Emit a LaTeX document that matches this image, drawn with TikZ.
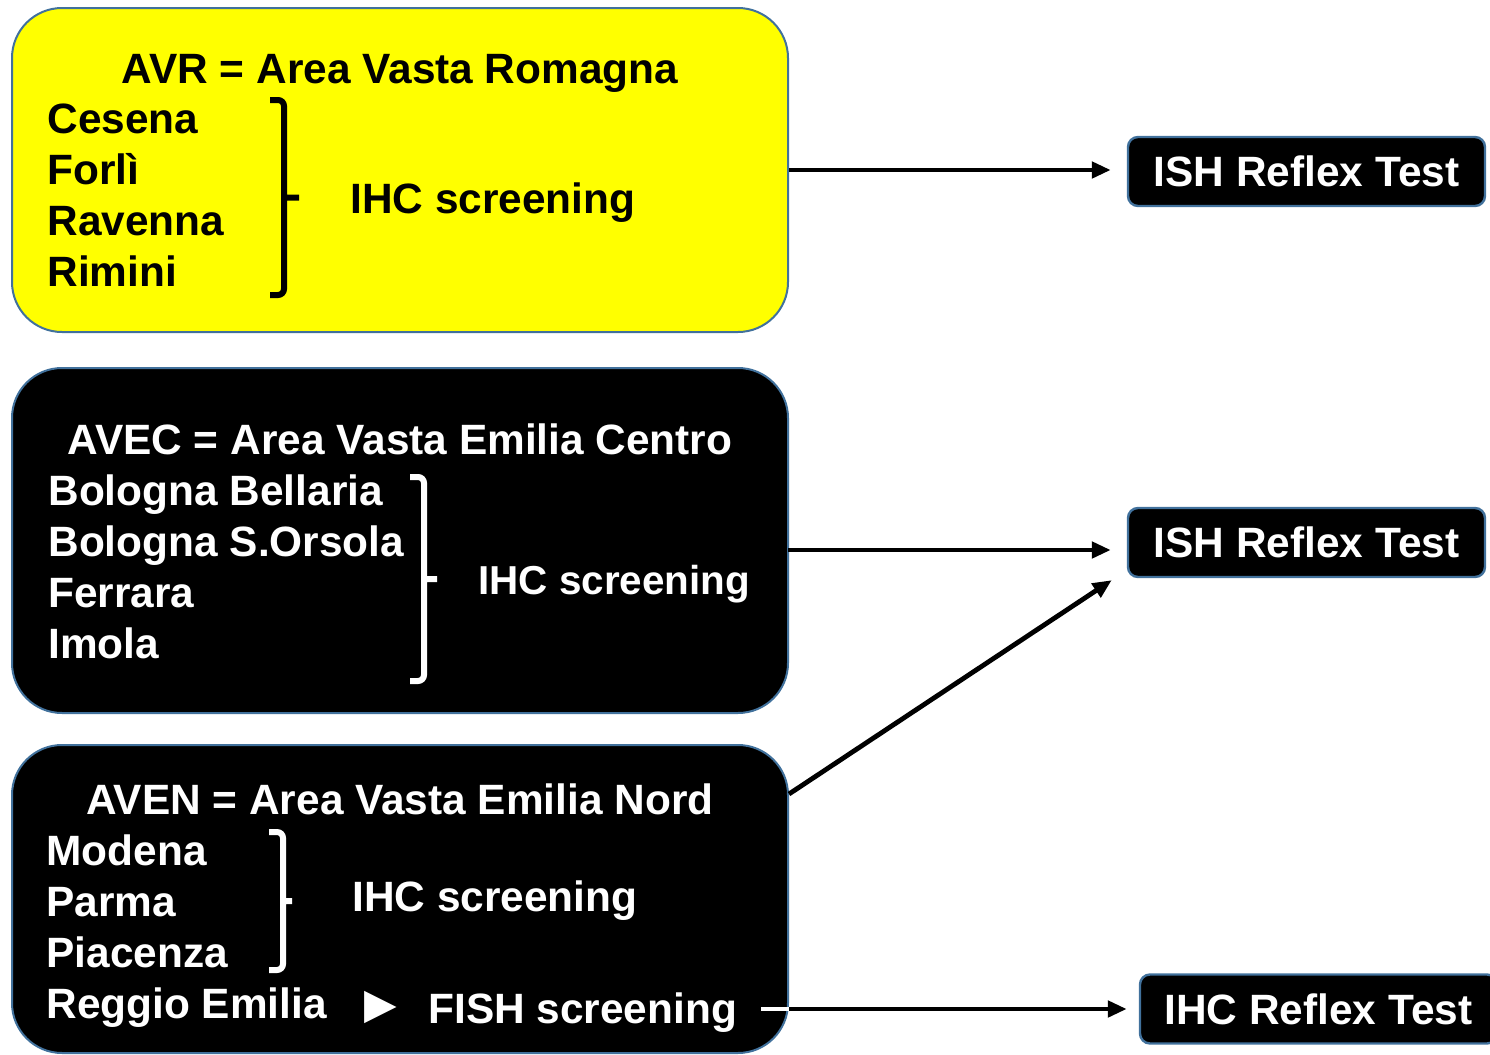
\documentclass[tikz,border=0pt]{standalone}
\usepackage{fontspec}
\setmainfont{Liberation Sans}
\newfontfamily\symfont{DejaVu Sans}
\usetikzlibrary{arrows.meta,calc}
\definecolor{boxline}{RGB}{65,113,156}
\definecolor{areayellow}{RGB}{255,255,0}
\tikzset{
  area/.style={draw=boxline, line width=1pt, rounded corners=25pt, minimum width=388pt, inner sep=0pt},
  result/.style={draw=boxline, fill=black, text=white, line width=1.2pt, rounded corners=5pt,
    minimum width=178.5pt, minimum height=34.5pt, inner sep=0pt,
    font=\bfseries\fontsize{21.2pt}{25.65pt}\selectfont},
  txt/.style={inner sep=0pt, font=\bfseries\fontsize{21.2pt}{25.65pt}\selectfont},
  flow/.style={line width=2.4pt, -{Triangle[length=9.5pt,width=8pt]}}
}
\begin{document}
\begin{tikzpicture}[x=0.5pt,y=-0.5pt]
\useasboundingbox (0,0) rectangle (1490,1055);
% the three areas
\node[area, fill=areayellow, minimum height=162pt] (avr) at (400,170) {};
\node[area, fill=black, minimum height=172.5pt] (avec) at (400,540.5) {};
\node[area, fill=black, minimum height=154pt] (aven) at (400,899) {};
% the tests on the right
\node[result] (ish1) at (1306.5,171.5) {ISH Reflex Test};
\node[result] (ish2) at (1306.5,542.5) {ISH Reflex Test};
\node[result] (ihc) at (1318.5,1009) {IHC Reflex Test};
% AVR
\node[txt, anchor=base] (avr-title) at (400,83) {AVR = Area Vasta Romagna};
\foreach \name [count=\i from 0] in {Cesena,Forlì,Ravenna,Rimini}
  \node[txt, anchor=base west] (avr-\i) at (47,133+51.3*\i) {\name};
\node[txt, anchor=base west] (avr-ihc) at (350,213) {IHC screening};
% AVEC
\node[txt, text=white, anchor=base] (avec-title) at (400,454) {AVEC = Area Vasta Emilia Centro};
\foreach \name [count=\i from 0] in {Bologna Bellaria,Bologna S.Orsola,Ferrara,Imola}
  \node[txt, text=white, anchor=base west] (avec-\i) at (48,505+51.3*\i) {\name};
\node[txt, text=white, anchor=base west, font=\bfseries\fontsize{20.2pt}{24pt}\selectfont] (avec-ihc) at (478,594) {IHC screening};
% AVEN
\node[txt, text=white, anchor=base] (aven-title) at (400,814) {AVEN = Area Vasta Emilia Nord};
\foreach \name [count=\i from 0] in {Modena,Parma,Piacenza,Reggio Emilia}
  \node[txt, text=white, anchor=base west] (aven-\i) at (46,865+51.1*\i) {\name};
\node[txt, text=white, anchor=base west] (aven-ihc) at (352,911) {IHC screening};
\node[txt, text=white] (bullet) at (381,1007) {\symfont ▶};
\node[txt, text=white, anchor=base west] (fish) at (428,1023) {FISH screening};
% the brackets
\foreach \x/\top/\bot/\tip/\col in {284/100/295/299/black, 424/477/681/437/white, 283/832/970/292/white}
  \draw[\col, line width=3pt, line cap=butt]
    [rounded corners=3pt] (\x-14,\top) -- (\x,\top) -- (\x,\bot) -- (\x-14,\bot)
    [sharp corners] (\x,{(\top+\bot)/2}) -- (\tip,{(\top+\bot)/2});
% connectors
\coordinate (avec-out) at (788,550);
\coordinate (aven-out) at ($(aven.north east)+(0,50)$);
\coordinate (ish2-in) at ($(ish2.south west)+(0,-8)$);
\draw[flow, shorten >=8pt] (avr.east) -- (avr.east -| ish1.west);
\draw[flow, shorten >=8pt] (avec-out) -- (avec-out -| ish2.west);
\draw[flow, shorten >=9pt] (aven-out) -- (ish2-in);
\draw[white, line width=2.4pt] ($(fish.east |- ihc.west)+(24,0)$) -- (aven.east |- ihc.west);
\draw[flow, shorten >=6pt] (aven.east |- ihc.west) -- (ihc.west);
\end{tikzpicture}
\end{document}
